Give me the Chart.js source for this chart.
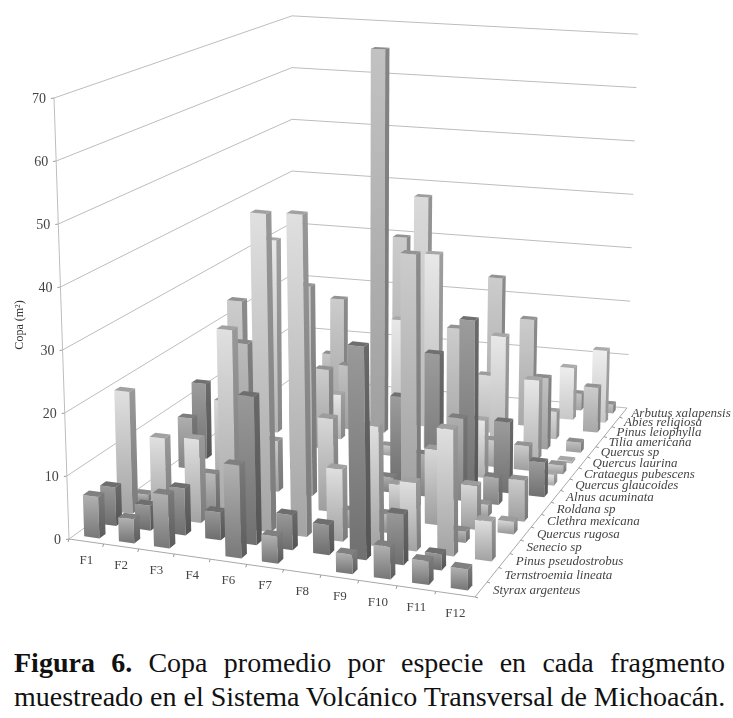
<!DOCTYPE html>
<html lang="es">
<head>
<meta charset="utf-8">
<title>Figura 6</title>
<script src="https://cdn.jsdelivr.net/npm/chart.js@4"></script>
<style>
  html, body { margin: 0; padding: 0; background: #fff; }
  body { width: 733px; height: 718px; overflow: hidden; position: relative; }
  canvas { position: absolute; left: 0; top: 0; filter: blur(0.35px); }
  .pie { position: absolute; left: 14px; width: 711px; font: 28px/34px "Liberation Serif", serif; color: #111;
         text-align: justify; text-align-last: justify; white-space: nowrap; }
</style>
</head>
<body>
<canvas id="copa" width="733" height="635"></canvas>
<div class="pie" style="top:646px"><b>Figura 6.</b> Copa promedio por especie en cada fragmento</div>
<div class="pie" style="top:680px">muestreado en el Sistema Volcánico Transversal de Michoacán.</div>
<script>
// --- DATOS ---
const fragmentos = ['F1','F2','F3','F4','F6','F7','F8','F9','F10','F11','F12'];
const especies = [
    'Styrax argenteus','Ternstroemia lineata','Pinus pseudostrobus','Senecio sp',
    'Quercus rugosa','Clethra mexicana','Roldana sp','Alnus acuminata',
    'Quercus glaucoides','Crataegus pubescens','Quercus laurina','Quercus sp',
    'Tilia americana','Pinus leiophylla','Abies religiosa','Arbutus xalapensis'
];
const nombreEje = 'Copa (m²)';
const copaMax = 70;

//                    F1    F2    F3    F4    F6    F7    F8    F9    F10   F11   F12
const styrax       = [6.6,  3.8,  8.4,  null, 14.5, 4.2,  null, 3,    5,    3.6,  3.2];
const ternstroemia = [6.2,  4,    7.5,  4.4,  23.5, 5.5,  4.7,  33.3, 7.9,  2.5,  null];
const pinusPseudo  = [19.9, 13,   13.5, 31.8, 51.1, 51.5, 11.5, 19,   10.8, 19.9, 6.2];
const senecio      = [1.2,  null, 6,    28,   null, null, 2.8,  3,    null, 1.8,  null];
const qRugosa      = [null, null, 16.2, null, null, 15.3, null, 5.8,  12.2, 7.1,  2];
const clethra      = [null, null, 31.4, 8.5,  35,   null, null, 42,   null, 2,    6.7];
const roldana      = [8.7,  null, null, null, null, null, 2.5,  7,    13.7, 4.5,  null];
const alnus        = [13,   null, null, 30,   null, null, 14.3, 22.2, 28.5, 11.9, 5.8];
const qGlaucoides  = [null, null, null, null, null, null, null, null, 9.8,  null, 1.8];
const crataegus    = [null, null, null, 14,   null, 1.7,  null, 23.4, 4.6,  4.2,  1.5];
const qLaurina     = [null, 34.6, null, 7.9,  null, 22.3, 34.5, null, 21,   13.9, 0.4];
const qSp          = [null, null, null, 11.5, 69.2, null, null, null, null, 12.6, 1.8];
const tilia        = [null, null, null, null, null, 41.7, null, 10.3, null, 4.9,  null];
const pinusLeio    = [null, null, 20.2, null, 32.6, null, null, 26.5, 19.4, null, 8.1];
const abies        = [null, null, null, null, null, null, null, null, null, 9.5,  13.2];
const arbutus      = [null, 6.4,  null, null, null, null, null, null, null, 3.1,  1.6];

const series = [styrax, ternstroemia, pinusPseudo, senecio, qRugosa, clethra, roldana, alnus,
                qGlaucoides, crataegus, qLaurina, qSp, tilia, pinusLeio, abies, arbutus];

// tono de la cara frontal por especie (arriba, abajo)
const tonos = [
    ['#b2b2b2','#7a7a7a'], ['#999999','#707070'], ['#e0e0e0','#a4a4a4'], ['#bbbbbb','#909090'],
    ['#d8d8d8','#9e9e9e'], ['#cccccc','#a0a0a0'], ['#aeaeae','#848484'], ['#9c9c9c','#727272'],
    ['#e8e8e8','#b0b0b0'], ['#cccccc','#a0a0a0'], ['#e8e8e8','#b4b4b4'], ['#c2c2c2','#a0a0a0'],
    ['#dadada','#b8b8b8'], ['#cccccc','#a8a8a8'], ['#eeeeee','#c8c8c8'], ['#c6c6c6','#a8a8a8']
];

// --- PROYECCION ---
// suelo: u = fragmentos (0..1), v = especies (0..1), alto = valor (0..1)
function proyectar(u, v, alto) {
    // el eje de fragmentos del original casi no tiene fuga
    const t = u + 0.045 * u * (1 - u);
    const w = 1 - 0.1068 * t + 0.2604 * v;
    return {
        x: (355.3 * t + 299 * v + 69 + alto * (12.7 * t + 15 * v - 15)) / w,
        y: (-5.8 * t - 62.6 * v + 539 - alto * (441 - 25.2 * t + 15.4 * v)) / w
    };
}

const decimal = (escala, valor) => escala.getDecimalForPixel(escala.getPixelForValue(valor));

function poligono(ctx, puntos, relleno) {
    ctx.beginPath();
    puntos.forEach((p, k) => k ? ctx.lineTo(p.x, p.y) : ctx.moveTo(p.x, p.y));
    ctx.closePath();
    ctx.fillStyle = relleno;
    ctx.fill();
}

function oscurecer(hex, f) {
    const n = Math.round(parseInt(hex.slice(1, 3), 16) * f);
    return `rgb(${n},${n},${n})`;
}

// --- BARRAS 3D ---
class Barras3D extends Chart.BarController {
    draw() {
        const ctx = this.chart.ctx;
        const { x, y, z } = this.chart.scales;
        const [claro, oscuro] = tonos[this.index];
        const fila = this.index;
        fragmentos.forEach((_, i) => {
            const valor = this.getParsed(i).y;
            if (valor === null || isNaN(valor)) return;
            const u0 = decimal(x, i - 0.22), u1 = decimal(x, i + 0.22);
            const v0 = decimal(z, fila - 0.18), v1 = decimal(z, fila + 0.18);
            const alto = decimal(y, valor);

            const a = proyectar(u0, v0, 0), b = proyectar(u1, v0, 0), c = proyectar(u1, v1, 0);
            const d = proyectar(u0, v0, alto), e = proyectar(u1, v0, alto);
            const f = proyectar(u1, v1, alto), g = proyectar(u0, v1, alto);

            const frente = ctx.createLinearGradient(0, d.y, 0, a.y);
            frente.addColorStop(0, claro);
            frente.addColorStop(1, oscuro);
            poligono(ctx, [a, b, e, d], frente);

            const lado = ctx.createLinearGradient(0, e.y, 0, b.y);
            lado.addColorStop(0, oscurecer(claro, 0.68));
            lado.addColorStop(1, oscurecer(oscuro, 0.75));
            poligono(ctx, [b, c, f, e], lado);

            poligono(ctx, [d, e, f, g], oscurecer(claro, 0.72));
        });
    }
}
Barras3D.id = 'barras3d';
Barras3D.defaults = Chart.BarController.defaults;
Barras3D.overrides = Chart.BarController.overrides;
Chart.register(Barras3D);

// --- PAREDES, EJES Y TEXTOS ---
function linea(ctx, p, q, color) {
    ctx.beginPath();
    ctx.moveTo(p.x, p.y);
    ctx.lineTo(q.x, q.y);
    ctx.strokeStyle = color;
    ctx.stroke();
}

const paredes = {
    id: 'paredes',
    beforeDatasetsDraw(chart) {
        const { ctx } = chart;
        const { x, y, z } = chart.scales;
        const gris = '#bdbdbd';
        ctx.save();
        ctx.lineWidth = 1;

        // rejilla y etiquetas del eje de valores
        ctx.font = '14px "Liberation Serif"';
        ctx.fillStyle = '#444';
        ctx.textAlign = 'right';
        ctx.textBaseline = 'middle';
        y.ticks.forEach(t => {
            const alto = decimal(y, t.value);
            const a = proyectar(0, 0, alto), d = proyectar(0, 1, alto), c = proyectar(1, 1, alto);
            linea(ctx, a, d, gris);
            linea(ctx, d, c, gris);
            linea(ctx, { x: a.x - 3, y: a.y + 0.5 }, a, '#999');
            ctx.fillText(t.label, a.x - 8, a.y + 1.5);
        });
        linea(ctx, proyectar(0, 0, 0), proyectar(0, 0, 1), gris);

        // borde del suelo
        linea(ctx, proyectar(0, 0, 0), proyectar(1, 0, 0), '#a8a8a8');
        linea(ctx, proyectar(1, 0, 0), proyectar(1, 1, 0), '#a8a8a8');

        // fragmentos
        ctx.font = '13px "Liberation Serif"';
        ctx.textAlign = 'center';
        fragmentos.forEach((nombre, i) => {
            const p = proyectar(decimal(x, i - 0.5), 0, 0);
            linea(ctx, p, { x: p.x - 1, y: p.y + 3 }, '#999');
            const m = proyectar(decimal(x, i), 0, 0);
            ctx.fillText(nombre, m.x, m.y + 19);
        });

        // especies
        ctx.font = 'italic 13px "Liberation Serif"';
        ctx.textAlign = 'left';
        especies.forEach((nombre, j) => {
            const vFila = decimal(z, j);
            const p = proyectar(1, decimal(z, j - 0.5), 0);
            linea(ctx, p, { x: p.x + 3, y: p.y + 1 }, '#999');
            const m = proyectar(1, vFila, 0);
            ctx.fillText(nombre, m.x + 12 - 4 * vFila, m.y + 1);
        });

        // titulo del eje
        ctx.save();
        ctx.translate(20, 325);
        ctx.rotate(-Math.PI / 2);
        ctx.font = '12px "Liberation Serif"';
        ctx.textAlign = 'center';
        ctx.fillStyle = '#333';
        ctx.fillText(nombreEje, 0, 0);
        ctx.restore();
        ctx.restore();
    }
};

new Chart(document.getElementById('copa'), {
    type: 'barras3d',
    data: {
        labels: fragmentos,
        datasets: especies.map((nombre, j) => ({ label: nombre, data: series[j] }))
    },
    options: {
        responsive: false,
        animation: false,
        devicePixelRatio: 1,
        layout: { padding: 0 },
        plugins: { legend: { display: false }, tooltip: { enabled: false } },
        scales: {
            x: { type: 'category', display: false, offset: true },
            z: { type: 'category', axis: 'x', position: 'bottom', display: false, offset: true, labels: especies },
            y: { type: 'linear', display: false, min: 0, max: copaMax, ticks: { stepSize: 10 } }
        }
    },
    plugins: [paredes]
});
</script>
</body>
</html>
